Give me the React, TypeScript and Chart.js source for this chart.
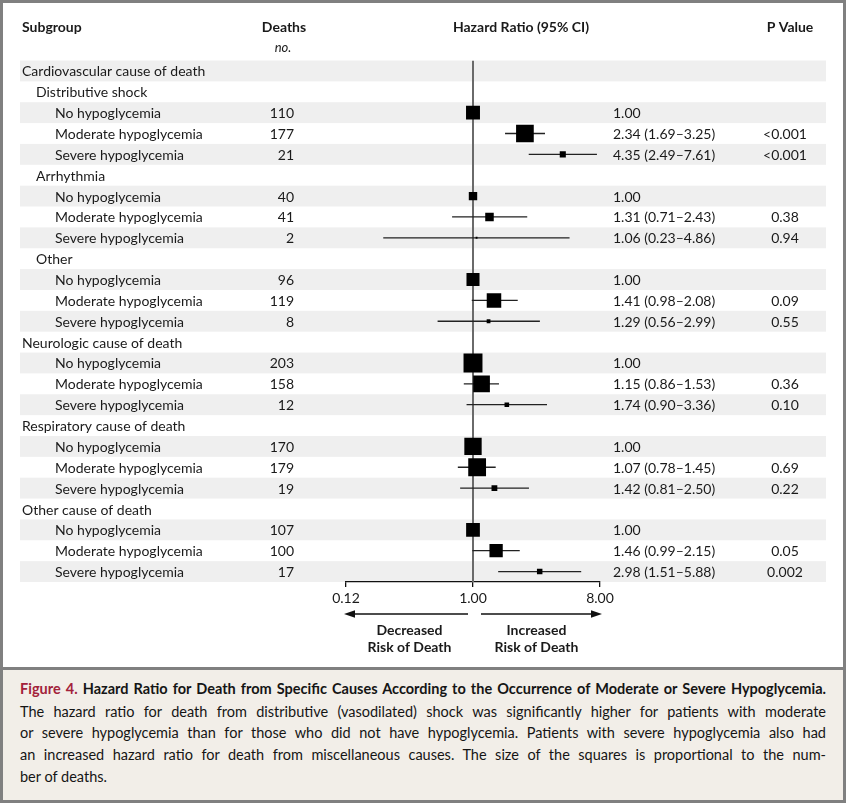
import React, { useEffect, useRef } from 'react';
import { Chart, registerables } from 'chart.js';

Chart.register(...registerables);

const rowLabels = [
  'Cardiovascular cause of death',
  'Distributive shock',
  'No hypoglycemia',
  'Moderate hypoglycemia',
  'Severe hypoglycemia',
  'Arrhythmia',
  'No hypoglycemia',
  'Moderate hypoglycemia',
  'Severe hypoglycemia',
  'Other',
  'No hypoglycemia',
  'Moderate hypoglycemia',
  'Severe hypoglycemia',
  'Neurologic cause of death',
  'No hypoglycemia',
  'Moderate hypoglycemia',
  'Severe hypoglycemia',
  'Respiratory cause of death',
  'No hypoglycemia',
  'Moderate hypoglycemia',
  'Severe hypoglycemia',
  'Other cause of death',
  'No hypoglycemia',
  'Moderate hypoglycemia',
  'Severe hypoglycemia',
];
const rowIndent = [0, 1, 2, 2, 2, 1, 2, 2, 2, 1, 2, 2, 2, 0, 2, 2, 2, 0, 2, 2, 2, 0, 2, 2, 2];
const deaths: (number | null)[] = [null, null, 110, 177, 21, null, 40, 41, 2, null, 96, 119, 8, null, 203, 158, 12, null, 170, 179, 19, null, 107, 100, 17];
const hazardRatio: (number | null)[] = [null, null, 1, 2.34, 4.35, null, 1, 1.31, 1.06, null, 1, 1.41, 1.29, null, 1, 1.15, 1.74, null, 1, 1.07, 1.42, null, 1, 1.46, 2.98];
const ciLower: (number | null)[] = [null, null, null, 1.69, 2.49, null, null, 0.71, 0.23, null, null, 0.98, 0.56, null, null, 0.86, 0.9, null, null, 0.78, 0.81, null, null, 0.99, 1.51];
const ciUpper: (number | null)[] = [null, null, null, 3.25, 7.61, null, null, 2.43, 4.86, null, null, 2.08, 2.99, null, null, 1.53, 3.36, null, null, 1.45, 2.5, null, null, 2.15, 5.88];
const pValues = ['', '', '', '<0.001', '<0.001', '', '', '0.38', '0.94', '', '', '0.09', '0.55', '', '', '0.36', '0.10', '', '', '0.69', '0.22', '', '', '0.05', '0.002'];
const tickValues = [0.125, 1, 8];
const tickLabels = ['0.12', '1.00', '8.00'];
const referenceValue = 1;

const headers = { subgroup: 'Subgroup', deaths: 'Deaths', deathsUnit: 'no.', hr: 'Hazard Ratio (95% CI)', p: 'P Value' };
const directionLabels = [['Decreased', 'Risk of Death'], ['Increased', 'Risk of Death']];

const captionTitleLead = 'Figure 4.';
const captionTitle = ' Hazard Ratio for Death from Specific Causes According to the Occurrence of Moderate or Severe Hypoglycemia.';
const captionLines = [
  'The hazard ratio for death from distributive (vasodilated) shock was significantly higher for patients with moderate',
  'or severe hypoglycemia than for those who did not have hypoglycemia. Patients with severe hypoglycemia also had',
  'an increased hazard ratio for death from miscellaneous causes. The size of the squares is proportional to the num-',
  'ber of deaths.',
];

const FONT = 'Lato, "Open Sans", sans-serif';
const TEXT = '#1a1a1a';
const W = 846;
const CH = 668;

function hrText(i: number): string {
  const h = hazardRatio[i];
  if (h == null) return '';
  const lo = ciLower[i];
  const hi = ciUpper[i];
  if (lo == null || hi == null) return h.toFixed(2);
  return `${h.toFixed(2)} (${lo.toFixed(2)}\u2013${hi.toFixed(2)})`;
}

const forestPlugin = {
  id: 'forestDecor',
  beforeDraw(chart: any) {
    const { ctx, scales } = chart;
    const y = scales.y;
    ctx.save();
    ctx.fillStyle = '#efefef';
    rowLabels.forEach((_, i) => {
      if (i % 2 !== 0) return;
      const t = y.getPixelForValue(i - 0.5);
      const b = y.getPixelForValue(i + 0.5);
      ctx.fillRect(20, t, 806, b - t);
    });
    ctx.restore();
  },
  afterDraw(chart: any) {
    const { ctx, scales, chartArea } = chart;
    const x = scales.x;
    const y = scales.y;
    ctx.save();
    ctx.fillStyle = TEXT;
    ctx.textBaseline = 'middle';
    // headers
    ctx.font = `bold 14px ${FONT}`;
    ctx.textAlign = 'left';
    ctx.fillText(headers.subgroup, 22, 27);
    ctx.textAlign = 'center';
    ctx.fillText(headers.deaths, 284, 27);
    ctx.fillText(headers.hr, 521, 27);
    ctx.fillText(headers.p, 790, 27);
    ctx.font = `italic 13px ${FONT}`;
    ctx.fillText(headers.deathsUnit, 283, 48);

    // rows
    ctx.font = `14px ${FONT}`;
    const indentX = [22, 36, 55];
    rowLabels.forEach((lab, i) => {
      const py = y.getPixelForValue(i) + 1;
      ctx.textAlign = 'left';
      ctx.fillText(lab, indentX[rowIndent[i]], py);
      const d = deaths[i];
      if (d != null) {
        ctx.textAlign = 'right';
        ctx.fillText(String(d), 294, py);
      }
      const t = hrText(i);
      if (t) {
        ctx.textAlign = 'left';
        ctx.fillText(t, 613, py);
      }
      if (pValues[i]) {
        ctx.textAlign = 'center';
        ctx.fillText(pValues[i], 785, py);
      }
    });

    // direction arrows
    const ref = x.getPixelForValue(referenceValue);
    const xMin = x.getPixelForValue(tickValues[0]);
    const xMax = x.getPixelForValue(tickValues[tickValues.length - 1]);
    const ay = chartArea.bottom + 32;
    ctx.strokeStyle = '#111';
    ctx.fillStyle = '#111';
    ctx.lineWidth = 1.3;
    const arrow = (from: number, to: number) => {
      const dir = Math.sign(to - from);
      ctx.beginPath();
      ctx.moveTo(from, ay);
      ctx.lineTo(to - dir * 8, ay);
      ctx.stroke();
      ctx.beginPath();
      ctx.moveTo(to, ay);
      ctx.lineTo(to - dir * 11, ay - 3.8);
      ctx.lineTo(to - dir * 11, ay + 3.8);
      ctx.closePath();
      ctx.fill();
    };
    arrow(ref - 5, xMin - 2);
    arrow(ref + 8, xMax + 2);

    ctx.font = `bold 14px ${FONT}`;
    ctx.textAlign = 'center';
    ctx.fillStyle = TEXT;
    const leftMid = x.getPixelForValue(Math.sqrt(tickValues[0] * referenceValue));
    const rightMid = x.getPixelForValue(Math.sqrt(tickValues[tickValues.length - 1] * referenceValue));
    directionLabels[0].forEach((s, k) => ctx.fillText(s, leftMid, ay + 16 + k * 17));
    directionLabels[1].forEach((s, k) => ctx.fillText(s, rightMid, ay + 16 + k * 17));
    ctx.restore();
  },
};

function ForestChart() {
  const ref = useRef<HTMLCanvasElement | null>(null);
  useEffect(() => {
    document.body.style.margin = '0';
    if (!ref.current) return;
    const idx = rowLabels.map((_, i) => i);
    const squares = idx
      .filter((i) => hazardRatio[i] != null && deaths[i] != null)
      .map((i) => ({ x: hazardRatio[i] as number, y: i, d: deaths[i] as number }));
    const ciSegments: any[] = [];
    idx.forEach((i) => {
      if (ciLower[i] != null && ciUpper[i] != null) {
        ciSegments.push({ x: ciLower[i], y: i }, { x: ciUpper[i], y: i }, { x: null, y: null });
      }
    });
    const sizeFor = (c: any) => {
      const raw = c.raw as any;
      return (1.33 * Math.sqrt(raw ? raw.d : 0)) / Math.SQRT2;
    };
    const chart = new Chart(ref.current, {
      type: 'scatter',
      data: {
        datasets: [
          {
            label: 'HR',
            data: squares,
            pointStyle: 'rect',
            backgroundColor: '#000',
            borderWidth: 0,
            pointRadius: sizeFor,
            pointHoverRadius: sizeFor,
          } as any,
          {
            label: 'CI',
            data: ciSegments,
            showLine: true,
            spanGaps: false,
            borderColor: '#222',
            borderWidth: 1.3,
            pointRadius: 0,
            pointHoverRadius: 0,
          } as any,
          {
            label: 'Reference',
            data: [
              { x: referenceValue, y: -0.5 },
              { x: referenceValue, y: rowLabels.length - 0.5 },
            ],
            showLine: true,
            borderColor: '#6a6a6a',
            borderWidth: 2,
            pointRadius: 0,
            pointHoverRadius: 0,
          } as any,
        ],
      },
      options: {
        animation: false,
        responsive: false,
        events: [],
        layout: { padding: { left: 346, right: W - 600, top: 60.5, bottom: 0 } },
        plugins: { legend: { display: false }, tooltip: { enabled: false } },
        scales: {
          y: {
            type: 'linear',
            min: -0.5,
            max: rowLabels.length - 0.5,
            reverse: true,
            display: false,
          },
          x: {
            type: 'logarithmic',
            position: 'bottom',
            min: tickValues[0],
            max: tickValues[tickValues.length - 1],
            afterBuildTicks: (scale: any) => {
              scale.ticks = tickValues.map((v) => ({ value: v }));
            },
            afterFit: (scale: any) => {
              scale.height = 86;
            },
            grid: { display: true, drawOnChartArea: false, drawTicks: true, tickLength: 5, color: '#111', lineWidth: 1.3 },
            border: { display: true, color: '#111', width: 1.3 },
            ticks: {
              autoSkip: false,
              maxRotation: 0,
              padding: 3,
              color: TEXT,
              font: { family: FONT, size: 14 },
              callback: (v: any) => {
                const k = tickValues.findIndex((t) => Math.abs(t - Number(v)) < 1e-9);
                return k >= 0 ? tickLabels[k] : '';
              },
            },
          },
        },
      },
      plugins: [forestPlugin],
    });
    return () => chart.destroy();
  }, []);
  return <canvas ref={ref} width={W} height={CH} style={{ position: 'absolute', left: 0, top: 0, width: W, height: CH }} />;
}

export default function App() {
  const lineStyle: React.CSSProperties = {
    width: 806,
    textAlign: 'justify',
    textAlignLast: 'justify' as any,
    height: 21.75,
    lineHeight: '21.75px',
  };
  return (
    <div style={{ position: 'relative', width: W, height: 803, background: '#fff', fontFamily: FONT, overflow: 'hidden' }}>
      <ForestChart />
      <div style={{ position: 'absolute', left: 0, top: 667, width: W, height: 3, background: '#808080' }} />
      <div style={{ position: 'absolute', left: 0, top: 670, width: W, height: 133, background: '#f2eee8' }}>
        <div style={{ position: 'absolute', left: 20, top: 8, color: '#151515' }}>
          <div style={{ ...lineStyle, fontWeight: 700, fontSize: 14.5, height: 22.5, lineHeight: '22.5px' }}>
            <span style={{ color: '#a3223a' }}>{captionTitleLead}</span>
            {captionTitle}
          </div>
          {captionLines.map((l, i) => (
            <div
              key={i}
              style={{
                ...lineStyle,
                fontSize: 14.5,
                textAlignLast: (i === captionLines.length - 1 ? 'left' : 'justify') as any,
              }}
            >
              {l}
            </div>
          ))}
        </div>
      </div>
      <div
        style={{
          position: 'absolute',
          left: 0,
          top: 0,
          width: W,
          height: 803,
          boxSizing: 'border-box',
          border: '3px solid #808080',
          pointerEvents: 'none',
        }}
      />
    </div>
  );
}
